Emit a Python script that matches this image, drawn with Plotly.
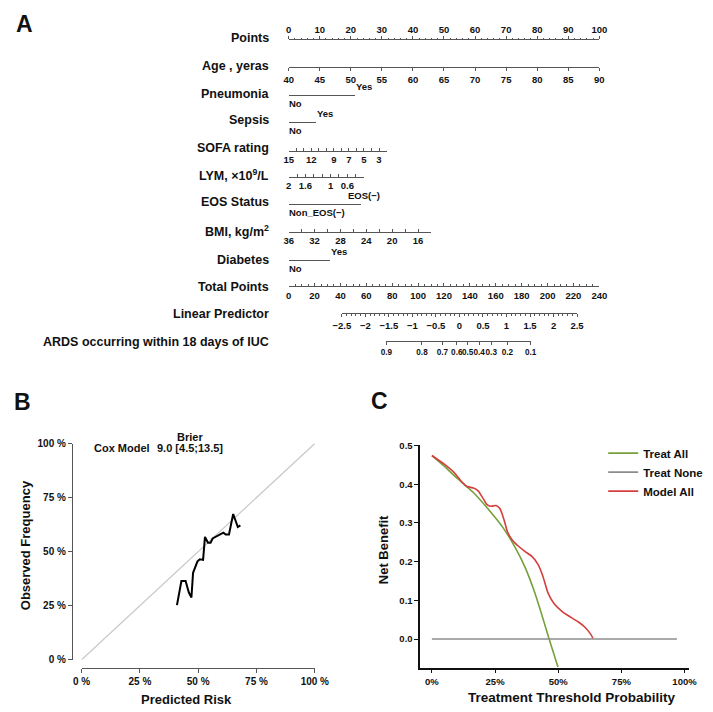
import plotly.graph_objects as go

W, H = 713, 712
FONT = "Liberation Sans, Arial, Helvetica, sans-serif"
INK = "#111111"
AXC = "#555555"

# ================= Panel A : nomogram data =================
ROW_NAMES = ["Points", "Age , yeras", "Pneumonia", "Sepsis", "SOFA rating",
             "LYM, ×10<sup>9</sup>/L", "EOS Status", "BMI, kg/m<sup>2</sup>",
             "Diabetes", "Total Points", "Linear Predictor",
             "ARDS occurring within 18 days of IUC"]

POINTS_TICKS = list(range(0, 101, 10))
POINTS_MINOR = [v for v in range(0, 101, 2) if v % 10]

AGE_TICKS = [40, 45, 50, 55, 60, 65, 70, 75, 80, 85, 90]
AGE_POINTS = [0, 100]

PNEU_LEVELS = ["No", "Yes"]
PNEU_POINTS = [0, 21.5]

SEPSIS_LEVELS = ["No", "Yes"]
SEPSIS_POINTS = [0, 8.7]

SOFA_TICKS = [15, 14, 13, 12, 11, 10, 9, 8, 7, 6, 5, 4, 3, 2]
SOFA_LABELS = ["15", " ", " ", "12", " ", " ", "9", " ", "7", " ", "5", " ", "3", " "]
SOFA_POINTS = [0, 31.5]

LYM_TICKS = [2.0, 1.8, 1.6, 1.4, 1.2, 1.0, 0.8, 0.6, 0.4, 0.2]
LYM_LABELS = ["2", " ", "1.6", " ", " ", "1", " ", "0.6", " ", " "]
LYM_POINTS = [0, 24.3]

EOS_LEVELS = ["Non_EOS(−)", "EOS(−)"]
EOS_POINTS = [0, 23.4]

BMI_TICKS = [36, 34, 32, 30, 28, 26, 24, 22, 20, 18, 16, 14]
BMI_LABELS = ["36", " ", "32", " ", "28", " ", "24", " ", "20", " ", "16", " "]
BMI_POINTS = [0, 45.8]

DIAB_LEVELS = ["No", "Yes"]
DIAB_POINTS = [0, 13.4]

TOTAL_TICKS = list(range(0, 241, 20))
TOTAL_MINOR = [v for v in range(0, 241, 5) if v % 20]
TOTAL_MAX = 240

LP_TICKS = [-2.5, -2, -1.5, -1, -0.5, 0, 0.5, 1, 1.5, 2, 2.5]
LP_LABELS = ["−2.5", "−2", "−1.5", "−1", "−0.5", "0", "0.5", "1", "1.5", "2", "2.5"]
LP_MINOR = [round(-2.5 + 0.1 * i, 2) for i in range(51) if i % 5]
LP_AT_TOTAL = [41.1, 222.8]

ARDS_LABELS = ["0.9", "0.8", "0.7", "0.6", "0.5", "0.4", "0.3", "0.2", "0.1"]
ARDS_AT_TOTAL = [75.5, 103.0, 118.7, 129.9, 138.3, 147.1, 156.5, 169.0, 187.0]

# ================= Panel B : calibration data =================
DIAG = [0, 1]
CAL_PRED = [0.409, 0.428, 0.446, 0.460, 0.471, 0.478, 0.497, 0.507, 0.521, 0.529,
            0.542, 0.553, 0.562, 0.608, 0.618, 0.632, 0.650, 0.670, 0.681]
CAL_OBS = [0.253, 0.364, 0.364, 0.311, 0.288, 0.402, 0.455, 0.465, 0.462, 0.568,
           0.541, 0.541, 0.561, 0.588, 0.579, 0.579, 0.674, 0.614, 0.621]

# ================= Panel C : decision curve data =================
ALL_T = [0.0, 0.05, 0.095, 0.165, 0.216, 0.280, 0.331, 0.369, 0.407, 0.440, 0.464, 0.499]
ALL_NB = [0.474, 0.446, 0.418, 0.378, 0.341, 0.289, 0.235, 0.185, 0.120, 0.052, 0.0, -0.072]
NONE_T = [0.0, 0.97]
NONE_NB = [0.0, 0.0]
MODEL_T = [0.0, 0.050, 0.088, 0.120, 0.139, 0.165, 0.184, 0.200, 0.218, 0.235, 0.254,
           0.269, 0.286, 0.299, 0.318, 0.344, 0.369, 0.395, 0.420, 0.439, 0.459, 0.484,
           0.516, 0.548, 0.580, 0.605, 0.631, 0.637]
MODEL_NB = [0.474, 0.451, 0.430, 0.405, 0.394, 0.390, 0.382, 0.366, 0.347, 0.343, 0.345,
            0.337, 0.307, 0.277, 0.256, 0.239, 0.226, 0.214, 0.193, 0.163, 0.120, 0.091,
            0.071, 0.057, 0.044, 0.031, 0.010, 0.002]


def fnt(size, color=INK):
    return dict(family=FONT, size=size, color=color, weight="bold")


# ---------------- layout constants ----------------
PX_ZERO = 289.0        # pixel of 0 points
PX_PER_POINT = 3.21    # pixels per point
ROW_LINE_Y = [35, 62.5, 90.5, 118, 147, 174, 201.5, 229.5, 258.5, 285, 312.5, 340.5]
ROW_LABEL_Y = [33, 61, 89, 116, 144, 172, 199, 229, 258, 286, 313, 342]


def px_of_points(p):
    return PX_ZERO + p * PX_PER_POINT


traces = []
layout = {}
annotations = []


def add_row(k, rng, pts, tickvals, ticktext, line_y, side, tickdir,
            minor=None, ticklen=3, labels=True, fsize=9.5):
    x0, x1 = px_of_points(pts[0]), px_of_points(pts[1])
    xa = dict(domain=[x0 / W, x1 / W], range=list(rng), anchor=f"y{k}", side=side,
              showline=True, linecolor=AXC, linewidth=1, showgrid=False, zeroline=False,
              tickmode="array", tickvals=tickvals, ticktext=ticktext, ticks=tickdir,
              ticklen=ticklen, tickcolor=AXC, tickwidth=1, tickfont=fnt(fsize),
              tickangle=0, showticklabels=labels, fixedrange=True)
    if minor:
        xa["minor"] = dict(tickmode="array", tickvals=minor, ticks=tickdir, ticklen=1.8,
                           tickcolor=AXC, tickwidth=1, showgrid=False)
    yb = 1 - line_y / H
    ydom = [yb - 0.001, yb] if side == "top" else [yb, yb + 0.001]
    layout[f"xaxis{k}"] = xa
    layout[f"yaxis{k}"] = dict(domain=ydom, range=[0, 1], visible=False, fixedrange=True)
    traces.append(go.Scatter(x=[rng[0]], y=[0.5], xaxis=f"x{k}", yaxis=f"y{k}",
                             mode="markers", marker=dict(opacity=0, size=1),
                             hoverinfo="skip", showlegend=False))


def add_cat_row(k, levels, pts, line_y, hi_shift=0, hi_anchor="left"):
    add_row(k, [0, 1], pts, [0, 1], ["", ""], line_y, "bottom", "inside",
            ticklen=4, labels=False)
    annotations.append(dict(text=levels[0], xref=f"x{k}", yref=f"y{k}", x=0, y=0,
                            xanchor="left", yanchor="middle", xshift=-2, yshift=-8.5,
                            showarrow=False, font=fnt(9.5)))
    annotations.append(dict(text=levels[1], xref=f"x{k}", yref=f"y{k}", x=1, y=0,
                            xanchor=hi_anchor, yanchor="middle", xshift=hi_shift, yshift=8.5,
                            showarrow=False, font=fnt(9.5)))


k = 3
add_row(k, [0, 100], [0, 100], POINTS_TICKS, [str(v) for v in POINTS_TICKS],
        ROW_LINE_Y[0], "top", "outside", minor=POINTS_MINOR); k += 1
add_row(k, [AGE_TICKS[0], AGE_TICKS[-1]], AGE_POINTS, AGE_TICKS, [str(v) for v in AGE_TICKS],
        ROW_LINE_Y[1], "bottom", "outside"); k += 1
add_cat_row(k, PNEU_LEVELS, PNEU_POINTS, ROW_LINE_Y[2], hi_shift=-1); k += 1
add_cat_row(k, SEPSIS_LEVELS, SEPSIS_POINTS, ROW_LINE_Y[3], hi_shift=-1); k += 1
add_row(k, [SOFA_TICKS[0], SOFA_TICKS[-1]], SOFA_POINTS, SOFA_TICKS, SOFA_LABELS,
        ROW_LINE_Y[4], "bottom", "inside"); k += 1
add_row(k, [LYM_TICKS[0], LYM_TICKS[-1]], LYM_POINTS, LYM_TICKS, LYM_LABELS,
        ROW_LINE_Y[5], "bottom", "inside"); k += 1
add_cat_row(k, EOS_LEVELS, EOS_POINTS, ROW_LINE_Y[6], hi_shift=3, hi_anchor="center"); k += 1
add_row(k, [BMI_TICKS[0], BMI_TICKS[-1]], BMI_POINTS, BMI_TICKS, BMI_LABELS,
        ROW_LINE_Y[7], "bottom", "inside"); k += 1
add_cat_row(k, DIAB_LEVELS, DIAB_POINTS, ROW_LINE_Y[8], hi_shift=-1); k += 1
add_row(k, [0, TOTAL_MAX], [0, 100], TOTAL_TICKS, [str(v) for v in TOTAL_TICKS],
        ROW_LINE_Y[9], "bottom", "inside", minor=TOTAL_MINOR); k += 1
lp_pts = [t * 100 / TOTAL_MAX for t in LP_AT_TOTAL]
add_row(k, [LP_TICKS[0], LP_TICKS[-1]], lp_pts, LP_TICKS, LP_LABELS,
        ROW_LINE_Y[10], "bottom", "outside", minor=LP_MINOR); k += 1
ards_pts = [ARDS_AT_TOTAL[0] * 100 / TOTAL_MAX, ARDS_AT_TOTAL[-1] * 100 / TOTAL_MAX]
add_row(k, [ARDS_AT_TOTAL[0], ARDS_AT_TOTAL[-1]], ards_pts, ARDS_AT_TOTAL, ARDS_LABELS,
        ROW_LINE_Y[11], "bottom", "outside", fsize=8.2); k += 1

for name, yc in zip(ROW_NAMES, ROW_LABEL_Y):
    annotations.append(dict(text=name, xref="paper", yref="paper", x=271 / W, y=1 - yc / H,
                            xanchor="right", yanchor="middle", showarrow=False, font=fnt(12.5)))

# ================= Panel B =================
traces.append(go.Scatter(x=DIAG, y=DIAG, xaxis="x", yaxis="y", mode="lines",
                         line=dict(color="#c8c8c8", width=1.2), hoverinfo="skip",
                         showlegend=False))
traces.append(go.Scatter(x=CAL_PRED, y=CAL_OBS, xaxis="x", yaxis="y", mode="lines",
                         line=dict(color="#000000", width=2), showlegend=False))
PCT = [0, 0.25, 0.5, 0.75, 1]
common_b = dict(range=[0, 1], anchor="free", tickmode="array", tickvals=PCT,
                ticktext=["0 %", "25 %", "50 %", "75 %", "100 %"],
                showline=True, linecolor=AXC, linewidth=1, ticks="outside",
                ticklen=4, tickcolor=AXC, tickfont=fnt(10), showgrid=False,
                zeroline=False, fixedrange=True)
layout["xaxis"] = dict(domain=[75 / W, 316 / W], position=1 - 673 / H, **common_b)
layout["yaxis"] = dict(domain=[1 - 665 / H, 1 - 445 / H], position=65 / W, **common_b)

for txt, xc, yc in [("Brier", 187, 438), ("Cox Model", 117, 450), ("9.0 [4.5;13.5]", 187, 450)]:
    annotations.append(dict(text=txt, x=xc / W, y=1 - yc / H, xanchor="center",
                            yanchor="middle", xref="paper", yref="paper",
                            showarrow=False, font=fnt(11)))
annotations.append(dict(text="Predicted Risk", xref="paper", yref="paper", x=183 / W,
                        y=1 - 705 / H, xanchor="center", yanchor="middle",
                        showarrow=False, font=fnt(13)))
annotations.append(dict(text="Observed Frequency", xref="paper", yref="paper", x=17 / W,
                        y=1 - 548 / H, xanchor="center", yanchor="middle", textangle=-90,
                        showarrow=False, font=fnt(13)))

# ================= Panel C =================
traces.append(go.Scatter(x=ALL_T, y=ALL_NB, xaxis="x2", yaxis="y2", mode="lines",
                         name="Treat All", line=dict(color="#76a03a", width=1.6,
                                                     shape="spline", smoothing=0.5)))
traces.append(go.Scatter(x=NONE_T, y=NONE_NB, xaxis="x2", yaxis="y2", mode="lines",
                         name="Treat None", line=dict(color="#8c8c8c", width=1.6)))
traces.append(go.Scatter(x=MODEL_T, y=MODEL_NB, xaxis="x2", yaxis="y2", mode="lines",
                         name="Model All", line=dict(color="#d43f3d", width=1.6,
                                                     shape="spline", smoothing=0.5)))
layout["xaxis2"] = dict(domain=[425 / W, 703 / W], range=[-0.046, 1.019], anchor="y2",
                        tickmode="array", tickvals=PCT,
                        ticktext=["0%", "25%", "50%", "75%", "100%"],
                        showline=True, linecolor="#111111", linewidth=1.6, ticks="outside",
                        ticklen=4, tickwidth=1.4, tickcolor="#111111", tickfont=fnt(9.5),
                        showgrid=False, zeroline=False, fixedrange=True)
layout["yaxis2"] = dict(domain=[1 - 673 / H, 1 - 447 / H], range=[-0.074, 0.5], anchor="x2",
                        tickmode="array", tickvals=[0, 0.1, 0.2, 0.3, 0.4, 0.5],
                        ticktext=["0.0", "0.1", "0.2", "0.3", "0.4", "0.5"],
                        showline=True, linecolor="#111111", linewidth=1.6, ticks="outside",
                        ticklen=4, tickwidth=1.4, tickcolor="#111111", tickfont=fnt(9.5),
                        showgrid=False, zeroline=False, fixedrange=True)
annotations.append(dict(text="Treatment Threshold Probability", xref="paper", yref="paper",
                        x=582 / W, y=1 - 703 / H, xanchor="center", yanchor="middle",
                        showarrow=False, font=fnt(13.5)))
annotations.append(dict(text="Net Benefit", xref="paper", yref="paper", x=387 / W,
                        y=1 - 553 / H, xanchor="center", yanchor="middle", textangle=-90,
                        showarrow=False, font=fnt(13)))

for letter, xl, yc in [("A", 5, 18), ("B", 3, 403), ("C", 372, 402)]:
    annotations.append(dict(text=letter, xref="paper", yref="paper", x=xl / W, y=1 - yc / H,
                            xanchor="left", yanchor="middle", showarrow=False, font=fnt(23)))

fig = go.Figure(data=traces)
fig.update_layout(**layout)
fig.update_layout(
    width=W, height=H, margin=dict(l=0, r=0, t=0, b=0, pad=0),
    paper_bgcolor="white", plot_bgcolor="rgba(0,0,0,0)",
    font=dict(family=FONT, color=INK),
    annotations=annotations,
    showlegend=True,
    legend=dict(x=614 / W, y=1 - 440 / H, xanchor="left", yanchor="top",
                font=fnt(11.5), bgcolor="rgba(0,0,0,0)", itemwidth=30,
                tracegroupgap=0),
    hovermode=False,
)
fig.write_html("out.html")
